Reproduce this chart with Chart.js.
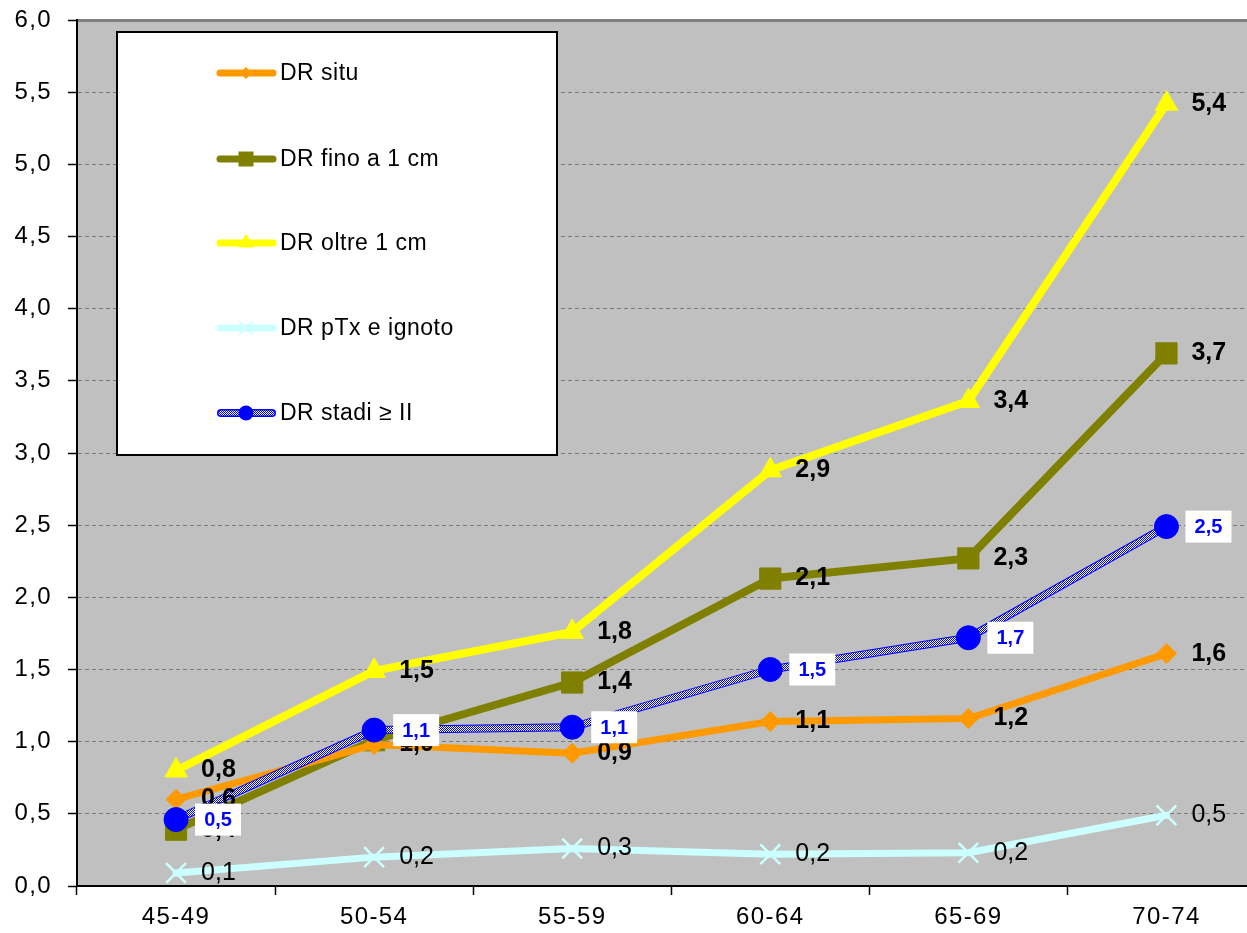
<!DOCTYPE html>
<html>
<head>
<meta charset="utf-8">
<script src="https://cdn.jsdelivr.net/npm/chart.js@4.4.0/dist/chart.umd.min.js"></script>
<style>
  html, body { margin: 0; padding: 0; background: #fff; overflow: hidden; width: 1247px; height: 933px; }
  canvas { display: block; }
</style>
</head>
<body>
<canvas id="chart" width="1282" height="933"></canvas>
<script>
// Age groups and detection rates (per 1000) by tumour size / stage
const ageGroups = ['45-49', '50-54', '55-59', '60-64', '65-69', '70-74'];
const drSitu = [0.60, 0.98, 0.92, 1.14, 1.16, 1.61];
const drFino1cm = [0.39, 1.01, 1.41, 2.13, 2.27, 3.69];
const drOltre1cm = [0.80, 1.49, 1.76, 2.88, 3.36, 5.42];
const drPTxIgnoto = [0.09, 0.20, 0.26, 0.22, 0.23, 0.49];
const drStadiII = [0.46, 1.08, 1.10, 1.50, 1.72, 2.49];
const seriesNames = ['DR situ', 'DR fino a 1 cm', 'DR oltre 1 cm', 'DR pTx e ignoto', 'DR stadi \u2265 II'];
const yMin = 0, yMax = 6, yStep = 0.5;

const fmt = v => v.toFixed(1).replace('.', ',');
const FONT = '"Liberation Sans", Arial, sans-serif';

// blue/white checkered stroke used by the "stadi ≥ II" line
function makeChecker() {
  const c = document.createElement('canvas');
  c.width = 2; c.height = 2;
  const g = c.getContext('2d');
  g.fillStyle = '#FFFFFF'; g.fillRect(0, 0, 2, 2);
  g.fillStyle = '#0000FF'; g.fillRect(0, 0, 1, 1); g.fillRect(1, 1, 1, 1);
  return g.createPattern(c, 'repeat');
}
const checker = makeChecker();

const styles = [
  { color: '#FF9900', width: 7, point: 'rectRot', radius: 10, bold: true },
  { color: '#808000', width: 8, point: 'rect', radius: 15, bold: true },
  { color: '#FFFF00', width: 8, point: 'triangle', radius: 13, bold: true },
  { color: '#CCFFFF', width: 7, point: 'crossRot', radius: 14, bold: false },
  { color: '#0000FF', width: 8, point: 'circle', radius: 12, bold: true }
];
const seriesData = [drSitu, drFino1cm, drOltre1cm, drPTxIgnoto, drStadiII];

function lineDataset(i, order) {
  const s = styles[i];
  return {
    label: seriesNames[i], data: seriesData[i], order,
    borderColor: s.color, borderWidth: s.width,
    borderJoinStyle: 'round', borderCapStyle: 'round',
    pointStyle: s.point, pointRadius: s.radius,
    pointBackgroundColor: s.color, pointBorderColor: s.color,
    pointBorderWidth: s.point === 'crossRot' ? 2.5 : 1,
    tension: 0
  };
}

const datasets = [
  // checkered core on top of a solid blue band
  {
    label: seriesNames[4], data: drStadiII, order: 0,
    borderColor: checker, borderWidth: 6, borderJoinStyle: 'round',
    pointStyle: 'circle', pointRadius: 12,
    pointBackgroundColor: '#0000FF', pointBorderColor: '#0000FF', pointBorderWidth: 1
  },
  {
    label: seriesNames[4] + ' bordo', data: drStadiII, order: 1,
    borderColor: '#0000FF', borderWidth: 8, borderJoinStyle: 'round', pointRadius: 0
  },
  lineDataset(0, 2),
  lineDataset(1, 3),
  lineDataset(2, 4),
  lineDataset(3, 5)
];

function drawMarker(ctx, kind, x, y, r, color) {
  ctx.save();
  ctx.fillStyle = color; ctx.strokeStyle = color;
  ctx.beginPath();
  if (kind === 'rectRot') {
    ctx.moveTo(x, y - r); ctx.lineTo(x + r, y); ctx.lineTo(x, y + r); ctx.lineTo(x - r, y); ctx.closePath(); ctx.fill();
  } else if (kind === 'rect') {
    ctx.rect(x - r, y - r, 2 * r, 2 * r); ctx.fill();
  } else if (kind === 'triangle') {
    ctx.moveTo(x, y - r); ctx.lineTo(x + r * 0.87, y + r / 2); ctx.lineTo(x - r * 0.87, y + r / 2); ctx.closePath(); ctx.fill();
  } else if (kind === 'crossRot') {
    ctx.lineWidth = 1.5;
    ctx.moveTo(x - r, y - r); ctx.lineTo(x + r, y + r);
    ctx.moveTo(x + r, y - r); ctx.lineTo(x - r, y + r); ctx.stroke();
  } else {
    ctx.arc(x, y, r, 0, Math.PI * 2); ctx.fill();
  }
  ctx.restore();
}

const decor = {
  id: 'decor',
  beforeDraw(chart) {
    const { ctx, chartArea: a } = chart;
    ctx.save();
    ctx.fillStyle = '#C0C0C0';
    ctx.fillRect(a.left, a.top, a.right - a.left, a.bottom - a.top);
    ctx.restore();
    ctx.letterSpacing = '1.4px';
  },
  afterDatasetsDraw(chart) {
    const { ctx } = chart;
    ctx.save();
    ctx.letterSpacing = '0px';

    // legend box inside the plot
    const bx = 117, by = 32, bw = 440, bh = 423;
    ctx.fillStyle = '#FFFFFF';
    ctx.fillRect(bx, by, bw, bh);
    ctx.strokeStyle = '#000000';
    ctx.lineWidth = 2;
    ctx.strokeRect(bx, by, bw, bh);
    const rows = [73, 159, 243, 328, 413];
    ctx.font = '23px ' + FONT;
    ctx.textBaseline = 'middle';
    ctx.textAlign = 'left';
    rows.forEach((ry, i) => {
      const s = styles[i];
      ctx.save();
      ctx.lineCap = 'round';
      if (i === 4) {
        ctx.strokeStyle = '#0000FF'; ctx.lineWidth = 8;
        ctx.beginPath(); ctx.moveTo(221, ry); ctx.lineTo(272, ry); ctx.stroke();
        ctx.strokeStyle = checker; ctx.lineWidth = 5;
        ctx.beginPath(); ctx.moveTo(221, ry); ctx.lineTo(272, ry); ctx.stroke();
      } else {
        ctx.strokeStyle = s.color; ctx.lineWidth = 7;
        ctx.beginPath(); ctx.moveTo(220, ry); ctx.lineTo(273, ry); ctx.stroke();
      }
      ctx.restore();
      const mr = { rectRot: 6, rect: 7.5, triangle: 9, crossRot: 7, circle: 7.5 }[s.point];
      drawMarker(ctx, s.point, 246, ry, mr, s.color);
      ctx.fillStyle = '#000000';
      ctx.letterSpacing = '0.5px';
      ctx.fillText(seriesNames[i], 280, ry + 1);
      ctx.letterSpacing = '0px';
    });

    // value labels, black series first
    const metaIndex = { 0: 2, 1: 3, 2: 4, 3: 5 };
    [2, 1, 0, 3].forEach(si => {
      const meta = chart.getDatasetMeta(metaIndex[si]);
      ctx.font = (styles[si].bold ? 'bold ' : '') + '25px ' + FONT;
      ctx.fillStyle = '#000000';
      ctx.textAlign = 'left';
      ctx.textBaseline = 'middle';
      meta.data.forEach((pt, j) => {
        ctx.fillText(fmt(seriesData[si][j]), pt.x + 25, pt.y);
      });
    });

    // boxed blue labels
    const blue = chart.getDatasetMeta(0);
    ctx.font = 'bold 20px ' + FONT;
    ctx.textAlign = 'center';
    ctx.textBaseline = 'middle';
    blue.data.forEach((pt, j) => {
      const x0 = pt.x + 19;
      ctx.fillStyle = '#FFFFFF';
      ctx.fillRect(x0, pt.y - 16, 46, 32);
      ctx.fillStyle = '#0000FF';
      ctx.fillText(fmt(drStadiII[j]), x0 + 23, pt.y + 1);
    });
    ctx.restore();
  }
};

new Chart(document.getElementById('chart'), {
  type: 'line',
  data: { labels: ageGroups, datasets },
  plugins: [decor],
  options: {
    responsive: false,
    devicePixelRatio: 1,
    animation: false,
    events: [],
    layout: { padding: { top: 20, right: 5, left: 0, bottom: 0 } },
    plugins: { legend: { display: false }, tooltip: { enabled: false } },
    scales: {
      x: {
        type: 'category',
        offset: true,
        grid: {
          offset: true, drawOnChartArea: false, drawTicks: true,
          tickLength: 9, tickColor: '#000000', tickWidth: 1.5
        },
        border: { display: true, color: '#000000', width: 2 },
        ticks: { color: '#000000', font: { family: FONT, size: 24 }, padding: 8, maxRotation: 0, autoSkip: false },
        afterFit(scale) { scale.height = 47; scale.paddingLeft = 0; scale.paddingRight = 0; }
      },
      y: {
        min: yMin, max: yMax,
        grid: {
          color: ctx => (ctx.tick && ctx.tick.value === yMax) ? '#808080' : '#7A7A7A',
          lineWidth: ctx => (ctx.tick && ctx.tick.value === yMax) ? 3 : 1,
          drawTicks: true, tickLength: 9, tickColor: '#000000', tickWidth: 1.5, tickBorderDash: []
        },
        border: {
          display: true, color: '#000000', width: 2,
          dash: ctx => (ctx.tick && ctx.tick.value === yMax) ? [] : [4, 3]
        },
        ticks: {
          stepSize: yStep, autoSkip: false, color: '#000000',
          font: { family: FONT, size: 24 }, padding: 16,
          callback: v => fmt(v)
        },
        afterFit(scale) { scale.width = 77; scale.paddingTop = 0; scale.paddingBottom = 0; }
      }
    }
  }
});
</script>
</body>
</html>
